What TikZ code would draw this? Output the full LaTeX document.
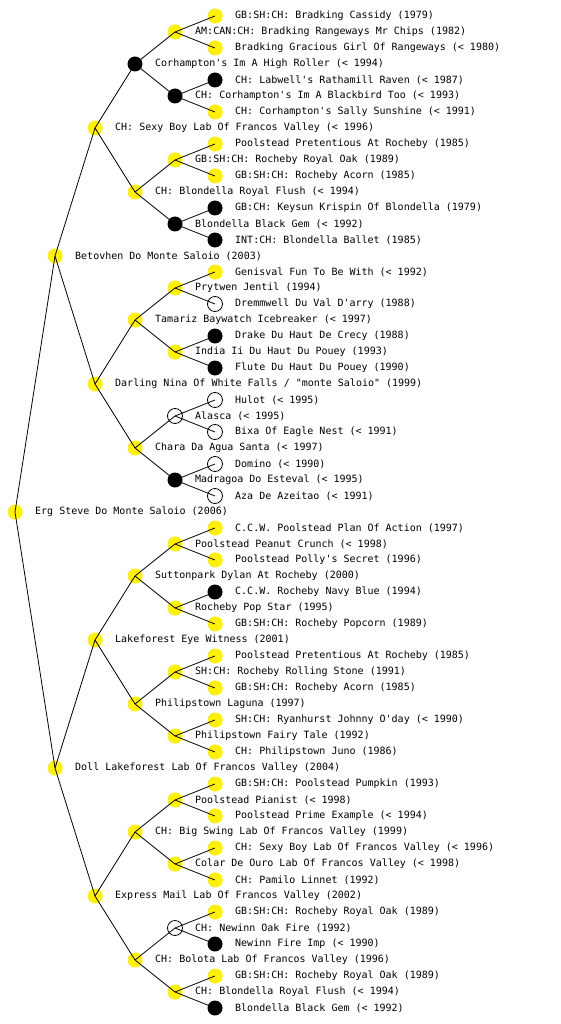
\documentclass[tikz,border=0pt]{standalone}
\usepackage{fontspec}
\setmonofont{DejaVu Sans Mono}
\usepackage{tikz}
\usetikzlibrary{positioning}
\tikzset{
  yel/.style={circle, fill=yellow, minimum size=15pt, inner sep=0pt, outer sep=0pt},
  blk/.style={yel, fill=black},
  wht/.style={yel, draw=black, fill=white, line width=0.8pt},
  lbl/.style={font=\fontsize{10}{12}\selectfont\ttfamily, inner sep=0pt, label distance=12.5pt},
  edge/.style={line width=0.8pt, black}
}
\begin{document}
\begin{tikzpicture}[x=1pt, y=-1pt]
    \useasboundingbox (0,0) rectangle (560,1024);
    % sire side
    \node[yel, label={[lbl]0:{GB:SH:CH: Bradking Cassidy (1979)}}] (sssss) at (215,16) {};
    \node[yel, label={[lbl]0:{AM:CAN:CH: Bradking Rangeways Mr Chips (1982)}}] (ssss) at (175,32) {};
    \node[yel, label={[lbl]0:{Bradking Gracious Girl Of Rangeways (< 1980)}}] (ssssd) at (215,48) {};
    \node[blk, label={[lbl]0:{Corhampton's Im A High Roller (< 1994)}}] (sss) at (135,64) {};
    \node[blk, label={[lbl]0:{CH: Labwell's Rathamill Raven (< 1987)}}] (sssds) at (215,80) {};
    \node[blk, label={[lbl]0:{CH: Corhampton's Im A Blackbird Too (< 1993)}}] (sssd) at (175,96) {};
    \node[yel, label={[lbl]0:{CH: Corhampton's Sally Sunshine (< 1991)}}] (sssdd) at (215,112) {};
    \node[yel, label={[lbl]0:{CH: Sexy Boy Lab Of Francos Valley (< 1996)}}] (ss) at (95,128) {};
    \node[yel, label={[lbl]0:{Poolstead Pretentious At Rocheby (1985)}}] (ssdss) at (215,144) {};
    \node[yel, label={[lbl]0:{GB:SH:CH: Rocheby Royal Oak (1989)}}] (ssds) at (175,160) {};
    \node[yel, label={[lbl]0:{GB:SH:CH: Rocheby Acorn (1985)}}] (ssdsd) at (215,176) {};
    \node[yel, label={[lbl]0:{CH: Blondella Royal Flush (< 1994)}}] (ssd) at (135,192) {};
    \node[blk, label={[lbl]0:{GB:CH: Keysun Krispin Of Blondella (1979)}}] (ssdds) at (215,208) {};
    \node[blk, label={[lbl]0:{Blondella Black Gem (< 1992)}}] (ssdd) at (175,224) {};
    \node[blk, label={[lbl]0:{INT:CH: Blondella Ballet (1985)}}] (ssddd) at (215,240) {};
    \node[yel, label={[lbl]0:{Betovhen Do Monte Saloio (2003)}}] (s) at (55,256) {};
    \node[yel, label={[lbl]0:{Genisval Fun To Be With (< 1992)}}] (sdsss) at (215,272) {};
    \node[yel, label={[lbl]0:{Prytwen Jentil (1994)}}] (sdss) at (175,288) {};
    \node[wht, label={[lbl]0:{Dremmwell Du Val D'arry (1988)}}] (sdssd) at (215,304) {};
    \node[yel, label={[lbl]0:{Tamariz Baywatch Icebreaker (< 1997)}}] (sds) at (135,320) {};
    \node[blk, label={[lbl]0:{Drake Du Haut De Crecy (1988)}}] (sdsds) at (215,336) {};
    \node[yel, label={[lbl]0:{India Ii Du Haut Du Pouey (1993)}}] (sdsd) at (175,352) {};
    \node[blk, label={[lbl]0:{Flute Du Haut Du Pouey (1990)}}] (sdsdd) at (215,368) {};
    \node[yel, label={[lbl]0:{Darling Nina Of White Falls / "monte Saloio" (1999)}}] (sd) at (95,384) {};
    \node[wht, label={[lbl]0:{Hulot (< 1995)}}] (sddss) at (215,400) {};
    \node[wht, label={[lbl]0:{Alasca (< 1995)}}] (sdds) at (175,416) {};
    \node[wht, label={[lbl]0:{Bixa Of Eagle Nest (< 1991)}}] (sddsd) at (215,432) {};
    \node[yel, label={[lbl]0:{Chara Da Agua Santa (< 1997)}}] (sdd) at (135,448) {};
    \node[wht, label={[lbl]0:{Domino (< 1990)}}] (sddds) at (215,464) {};
    \node[blk, label={[lbl]0:{Madragoa Do Esteval (< 1995)}}] (sddd) at (175,480) {};
    \node[wht, label={[lbl]0:{Aza De Azeitao (< 1991)}}] (sdddd) at (215,496) {};
    % the dog
    \node[yel, label={[lbl]0:{Erg Steve Do Monte Saloio (2006)}}] (dog) at (15,512) {};
    % dam side
    \node[yel, label={[lbl]0:{C.C.W. Poolstead Plan Of Action (1997)}}] (dssss) at (215,528) {};
    \node[yel, label={[lbl]0:{Poolstead Peanut Crunch (< 1998)}}] (dsss) at (175,544) {};
    \node[yel, label={[lbl]0:{Poolstead Polly's Secret (1996)}}] (dsssd) at (215,560) {};
    \node[yel, label={[lbl]0:{Suttonpark Dylan At Rocheby (2000)}}] (dss) at (135,576) {};
    \node[blk, label={[lbl]0:{C.C.W. Rocheby Navy Blue (1994)}}] (dssds) at (215,592) {};
    \node[yel, label={[lbl]0:{Rocheby Pop Star (1995)}}] (dssd) at (175,608) {};
    \node[yel, label={[lbl]0:{GB:SH:CH: Rocheby Popcorn (1989)}}] (dssdd) at (215,624) {};
    \node[yel, label={[lbl]0:{Lakeforest Eye Witness (2001)}}] (ds) at (95,640) {};
    \node[yel, label={[lbl]0:{Poolstead Pretentious At Rocheby (1985)}}] (dsdss) at (215,656) {};
    \node[yel, label={[lbl]0:{SH:CH: Rocheby Rolling Stone (1991)}}] (dsds) at (175,672) {};
    \node[yel, label={[lbl]0:{GB:SH:CH: Rocheby Acorn (1985)}}] (dsdsd) at (215,688) {};
    \node[yel, label={[lbl]0:{Philipstown Laguna (1997)}}] (dsd) at (135,704) {};
    \node[yel, label={[lbl]0:{SH:CH: Ryanhurst Johnny O'day (< 1990)}}] (dsdds) at (215,720) {};
    \node[yel, label={[lbl]0:{Philipstown Fairy Tale (1992)}}] (dsdd) at (175,736) {};
    \node[yel, label={[lbl]0:{CH: Philipstown Juno (1986)}}] (dsddd) at (215,752) {};
    \node[yel, label={[lbl]0:{Doll Lakeforest Lab Of Francos Valley (2004)}}] (d) at (55,768) {};
    \node[yel, label={[lbl]0:{GB:SH:CH: Poolstead Pumpkin (1993)}}] (ddsss) at (215,784) {};
    \node[yel, label={[lbl]0:{Poolstead Pianist (< 1998)}}] (ddss) at (175,800) {};
    \node[yel, label={[lbl]0:{Poolstead Prime Example (< 1994)}}] (ddssd) at (215,816) {};
    \node[yel, label={[lbl]0:{CH: Big Swing Lab Of Francos Valley (1999)}}] (dds) at (135,832) {};
    \node[yel, label={[lbl]0:{CH: Sexy Boy Lab Of Francos Valley (< 1996)}}] (ddsds) at (215,848) {};
    \node[yel, label={[lbl]0:{Colar De Ouro Lab Of Francos Valley (< 1998)}}] (ddsd) at (175,864) {};
    \node[yel, label={[lbl]0:{CH: Pamilo Linnet (1992)}}] (ddsdd) at (215,880) {};
    \node[yel, label={[lbl]0:{Express Mail Lab Of Francos Valley (2002)}}] (dd) at (95,896) {};
    \node[yel, label={[lbl]0:{GB:SH:CH: Rocheby Royal Oak (1989)}}] (dddss) at (215,912) {};
    \node[wht, label={[lbl]0:{CH: Newinn Oak Fire (1992)}}] (ddds) at (175,928) {};
    \node[blk, label={[lbl]0:{Newinn Fire Imp (< 1990)}}] (dddsd) at (215,944) {};
    \node[yel, label={[lbl]0:{CH: Bolota Lab Of Francos Valley (1996)}}] (ddd) at (135,960) {};
    \node[yel, label={[lbl]0:{GB:SH:CH: Rocheby Royal Oak (1989)}}] (dddds) at (215,976) {};
    \node[yel, label={[lbl]0:{CH: Blondella Royal Flush (< 1994)}}] (dddd) at (175,992) {};
    \node[blk, label={[lbl]0:{Blondella Black Gem (< 1992)}}] (ddddd) at (215,1008) {};
    % parent to sire and dam
    \draw[edge] (dog.center) -- (s.center) (dog.center) -- (d.center);
    \foreach \p in {s,d,ss,sd,ds,dd,sss,ssd,sds,sdd,dss,dsd,dds,ddd,
                    ssss,sssd,ssds,ssdd,sdss,sdsd,sdds,sddd,
                    dsss,dssd,dsds,dsdd,ddss,ddsd,ddds,dddd}
      \draw[edge] (\p.center) -- (\p s.center) (\p.center) -- (\p d.center);
\end{tikzpicture}
\end{document}
